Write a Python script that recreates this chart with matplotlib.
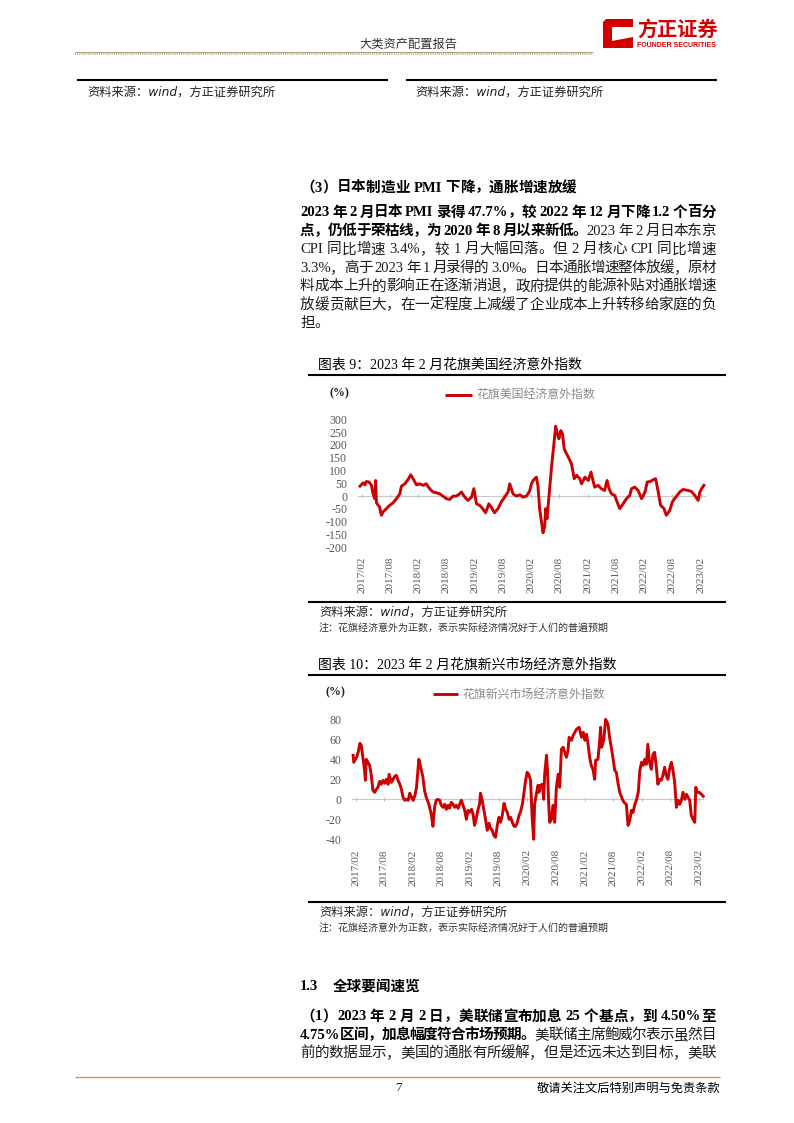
import matplotlib
matplotlib.use('Agg')
import matplotlib.pyplot as plt
from matplotlib.lines import Line2D
from matplotlib.patches import Polygon
import pandas as pd

# ---------------- data ----------------
xtick_labels = ['2017/02', '2017/08', '2018/02', '2018/08', '2019/02', '2019/08', '2020/02',
                '2020/08', '2021/02', '2021/08', '2022/02', '2022/08', '2023/02']
us_yticks = [300, 250, 200, 150, 100, 50, 0, -50, -100, -150, -200]
em_yticks = [80, 60, 40, 20, 0, -20, -40]

us_dates = [
    '2017-01-21', '2017-02-11', '2017-02-22', '2017-03-03', '2017-03-20', '2017-04-05', '2017-04-15', '2017-04-26', '2017-05-02', '2017-05-07',
    '2017-05-28', '2017-06-08', '2017-06-19', '2017-07-10', '2017-08-01', '2017-08-23', '2017-09-14', '2017-10-05', '2017-10-16', '2017-11-07',
    '2017-11-28', '2017-12-15', '2017-12-30', '2018-01-21', '2018-02-12', '2018-03-04', '2018-03-25', '2018-04-16', '2018-05-08', '2018-05-29',
    '2018-06-20', '2018-07-11', '2018-08-02', '2018-08-24', '2018-09-15', '2018-10-06', '2018-10-27', '2018-11-08', '2018-11-29', '2018-12-20',
    '2019-01-12', '2019-01-27', '2019-02-03', '2019-02-13', '2019-03-05', '2019-03-22', '2019-04-13', '2019-05-04', '2019-05-19', '2019-06-10',
    '2019-07-02', '2019-07-23', '2019-08-14', '2019-09-05', '2019-09-16', '2019-10-07', '2019-10-29', '2019-11-20', '2019-12-11', '2020-01-02',
    '2020-01-23', '2020-02-03', '2020-02-14', '2020-03-06', '2020-03-16', '2020-03-27', '2020-04-08', '2020-04-18', '2020-04-29', '2020-05-05',
    '2020-05-14', '2020-05-27', '2020-06-11', '2020-06-26', '2020-07-09', '2020-07-20', '2020-07-30', '2020-08-11', '2020-08-22', '2020-09-02',
    '2020-09-17', '2020-10-04', '2020-10-19', '2020-11-06', '2020-11-21', '2020-12-12', '2020-12-23', '2021-01-14', '2021-02-05', '2021-02-22',
    '2021-03-07', '2021-03-18', '2021-04-09', '2021-04-30', '2021-05-21', '2021-06-06', '2021-06-19', '2021-07-04', '2021-07-25', '2021-08-10',
    '2021-08-27', '2021-09-18', '2021-10-09', '2021-10-31', '2021-11-11', '2021-12-02', '2021-12-24', '2022-01-15', '2022-02-06', '2022-02-21',
    '2022-03-12', '2022-04-03', '2022-04-16', '2022-05-01', '2022-05-18', '2022-06-09', '2022-06-24', '2022-07-16', '2022-08-02', '2022-08-24',
    '2022-09-19', '2022-10-10', '2022-11-12', '2022-12-04', '2022-12-25', '2023-01-16', '2023-01-27', '2023-02-07', '2023-02-22']
us_values = [
    39, 52, 44, 57, 55, 42, 9, -10, 61, -26,
    -43, -75, -62, -49, -36, -26, -10, 9, 39, 48,
    65, 83, 68, 44, 48, 42, 48, 29, 16, 13,
    9, 0, -10, -13, 0, 0, 9, 16, -4, -17,
    -4, 29, 5, -30, -36, -47, -65, -30, -43, -65,
    -49, -23, -4, 16, 48, 9, 0, 5, -4, 0,
    20, 48, 61, 74, 42, -49, -101, -143, -118, -49,
    -88, 3, 107, 198, 273, 243, 224, 256, 243, 185,
    165, 146, 126, 68, 81, 68, 48, 74, 61, 94,
    61, 35, 42, 29, 22, 61, 29, 9, 3, -23,
    -49, -30, -10, 3, 29, 35, 22, -10, 16, 55,
    57, 65, 68, 22, -36, -49, -75, -56, -23, -4,
    16, 26, 22, 18, 3, -17, 16, 29, 42]

em_dates = [
    '2017-01-16', '2017-01-20', '2017-02-07', '2017-02-17', '2017-02-28', '2017-03-09', '2017-03-19', '2017-03-30', '2017-04-04', '2017-04-10',
    '2017-04-20', '2017-05-01', '2017-05-11', '2017-05-22', '2017-06-02', '2017-06-13', '2017-06-23', '2017-07-04', '2017-07-14', '2017-07-25',
    '2017-08-05', '2017-08-16', '2017-08-27', '2017-09-02', '2017-09-17', '2017-09-28', '2017-10-08', '2017-10-19', '2017-10-29', '2017-11-10',
    '2017-11-20', '2017-11-30', '2017-12-11', '2017-12-21', '2018-01-02', '2018-01-12', '2018-01-23', '2018-02-03', '2018-02-14', '2018-02-24',
    '2018-03-05', '2018-03-11', '2018-03-19', '2018-04-06', '2018-04-16', '2018-04-27', '2018-05-14', '2018-05-29', '2018-06-09', '2018-06-19',
    '2018-06-30', '2018-07-10', '2018-07-21', '2018-08-01', '2018-08-12', '2018-08-22', '2018-09-02', '2018-09-13', '2018-09-23', '2018-10-04',
    '2018-10-15', '2018-10-25', '2018-11-05', '2018-11-16', '2018-11-26', '2018-12-07', '2018-12-18', '2018-12-28', '2019-01-08', '2019-01-19',
    '2019-01-30', '2019-02-10', '2019-02-20', '2019-03-01', '2019-03-11', '2019-03-22', '2019-04-02', '2019-04-08', '2019-04-19', '2019-04-30',
    '2019-05-10', '2019-05-21', '2019-06-01', '2019-06-11', '2019-06-22', '2019-07-02', '2019-07-13', '2019-07-24', '2019-08-04', '2019-08-14',
    '2019-08-25', '2019-09-05', '2019-09-16', '2019-09-26', '2019-10-07', '2019-10-17', '2019-10-28', '2019-11-08', '2019-11-18', '2019-11-29',
    '2019-12-10', '2019-12-20', '2019-12-31', '2020-01-09', '2020-01-19', '2020-01-30', '2020-02-10', '2020-02-21', '2020-02-27', '2020-03-03',
    '2020-03-12', '2020-03-18', '2020-03-29', '2020-04-09', '2020-04-15', '2020-04-24', '2020-05-06', '2020-05-15', '2020-05-21', '2020-06-02',
    '2020-06-08', '2020-06-16', '2020-06-22', '2020-07-03', '2020-07-13', '2020-07-24', '2020-08-04', '2020-08-15', '2020-08-25', '2020-09-05',
    '2020-09-16', '2020-09-26', '2020-10-07', '2020-10-17', '2020-10-24', '2020-11-08', '2020-11-19', '2020-12-10', '2020-12-27', '2021-01-11',
    '2021-01-22', '2021-02-02', '2021-02-12', '2021-02-22', '2021-03-04', '2021-03-14', '2021-03-25', '2021-04-05', '2021-04-11', '2021-04-26',
    '2021-05-07', '2021-05-13', '2021-05-19', '2021-06-02', '2021-06-14', '2021-06-29', '2021-07-09', '2021-07-20', '2021-07-30', '2021-08-11',
    '2021-08-21', '2021-09-02', '2021-09-12', '2021-09-29', '2021-10-09', '2021-10-24', '2021-11-04', '2021-11-15', '2021-11-26', '2021-12-06',
    '2021-12-17', '2021-12-27', '2022-01-08', '2022-01-18', '2022-01-29', '2022-02-09', '2022-02-19', '2022-03-01', '2022-03-10', '2022-03-21',
    '2022-04-01', '2022-04-12', '2022-04-22', '2022-05-02', '2022-05-13', '2022-05-24', '2022-06-04', '2022-06-14', '2022-06-25', '2022-07-05',
    '2022-07-16', '2022-07-26', '2022-08-07', '2022-08-17', '2022-08-28', '2022-09-08', '2022-09-19', '2022-09-29', '2022-10-10', '2022-10-20',
    '2022-11-01', '2022-11-11', '2022-11-21', '2022-12-02', '2022-12-12', '2022-12-23', '2023-01-03', '2023-01-10', '2023-01-18', '2023-01-31',
    '2023-02-15', '2023-02-26']
em_values = [
    44, 37, 42, 47, 56, 54, 42, 29, 19, 40,
    37, 34, 25, 9, 7, 10, 12, 18, 15, 19,
    16, 20, 15, 25, 17, 20, 23, 24, 19, 15,
    10, 2, -1, 0, -1, 6, 2, -1, 4, 12,
    29, 40, 35, 22, 9, 2, -5, -15, -27, -8,
    -1, 0, -1, -6, -8, -5, -10, -6, -9, -3,
    -5, -8, -6, -9, -5, -1, -6, -11, -20, -11,
    -13, -10, -15, -26, -20, -11, -5, 6, -1, -11,
    -20, -31, -24, -29, -31, -36, -38, -26, -18, -23,
    -16, -4, -10, -13, -20, -18, -23, -27, -27, -23,
    -16, -12, -5, 5, 17, 27, 25, 19, -1, -20,
    -40, -5, 5, 14, 7, 14, 15, 0, 25, 44,
    29, -5, -23, -20, -6, -23, 12, 25, 12, 50,
    52, 47, 42, 49, 62, 59, 64, 70, 72, 62,
    67, 59, 65, 55, 42, 34, 30, 20, 39, 40,
    59, 72, 52, 59, 80, 75, 62, 52, 42, 29,
    27, 15, 7, 0, -3, -5, -26, -21, -11, -13,
    -5, -1, 7, 29, 37, 34, 40, 35, 55, 37,
    30, 45, 47, 34, 15, 20, 19, 24, 32, 24,
    20, 30, 37, 29, 17, -8, -1, -5, -1, 7,
    0, 5, 2, -1, -16, -20, -23, 12, 7, 7,
    5, 3]

assert len(us_dates) == len(us_values)
assert len(em_dates) == len(em_values)

# ---------------- page set-up ----------------
W, H = 794, 1123
fig = plt.figure(figsize=(W / 100, H / 100), dpi=100)
fig.patch.set_facecolor('white')
renderer = fig.canvas.get_renderer()

SER = ['Liberation Serif', 'Noto Sans CJK SC']
SANS = ['Noto Sans CJK SC', 'DejaVu Sans']
KAI = ['DejaVu Sans', 'Noto Sans CJK SC']
RED = '#d40000'
LINE_RED = '#cc0000'


def X(x):
    return x / W


def Y(y):
    return 1 - y / H


def txt(x, y, s, size, family=SER, **kw):
    kw.setdefault('va', 'center')
    return fig.text(X(x), Y(y), s, fontsize=size, family=family, **kw)


def hline(x0, x1, y, lw, color, **kw):
    fig.add_artist(Line2D([X(x0), X(x1)], [Y(y), Y(y)], transform=fig.transFigure,
                          lw=lw, color=color, solid_capstyle='butt', **kw))


# -------- justified text helper --------
def split_tokens(segs):
    toks = []
    for s, b in segs:
        i = 0
        while i < len(s):
            c = s[i]
            if c == ' ':
                toks.append((' ', b))
                i += 1
            elif ord(c) < 128:
                j = i
                while j < len(s) and ord(s[j]) < 128 and s[j] != ' ':
                    j += 1
                toks.append((s[i:j], b))
                i = j
            else:
                toks.append((c, b))
                i += 1
    return toks


_wc = {}


def _ext(s, b, size):
    t = fig.text(0, 0, s, fontsize=size, family=SER, fontweight='bold' if b else 'normal')
    w = t.get_window_extent(renderer).width
    t.remove()
    return w


def adv(s, b, size):
    key = (s, b, size)
    if key not in _wc:
        _wc[key] = _ext('|' + s + '|', b, size) - _ext('||', b, size)
    return _wc[key]


def para_line(segs, y, x0=300, x1=716, size=10.5, justify=True):
    toks = split_tokens(segs)
    widths = [adv(s, b, size) for s, b in toks]
    extra = 0
    if justify and len(toks) > 1:
        extra = (x1 - x0 - sum(widths)) / (len(toks) - 1)
    x = x0
    for (s, b), w in zip(toks, widths):
        if s != ' ':
            fig.text(X(x), Y(y), s, fontsize=size, family=SER,
                     fontweight='bold' if b else 'normal',
                     color='black' if b else '#1c1c1c', va='center', ha='left')
        x += w + extra


# ---------------- header ----------------
txt(408, 44, '大类资产配置报告', 8.8, family=SANS, ha='center', color='#333333')
hline(75, 593, 51.5, 0.6, '#9c8c6c')
hline(75, 593, 54.0, 1.3, '#b8aa8c', linestyle=(0, (0.6, 0.6)))
# logo
logo = [(606, 19), (633, 19), (633, 27), (612, 27), (612, 41), (633, 37), (633, 48), (603, 48), (603, 22)]
fig.add_artist(Polygon([(X(a), Y(b)) for a, b in logo], closed=True, transform=fig.transFigure,
                       facecolor=RED, edgecolor='none'))
txt(637, 29, '方正证券', 14.5, family=SANS, fontweight='bold', color=RED)
txt(637, 45.5, 'FOUNDER SECURITIES', 5.0, family=['Liberation Sans'], fontweight='bold', color=RED)

hline(77, 388, 79.5, 1.5, 'black')
hline(406, 717, 79.5, 1.5, 'black')
txt(87, 92, '资料来源：wind，方正证券研究所', 8.8, family=KAI, style='italic', color='#222222')
txt(415, 92, '资料来源：wind，方正证券研究所', 8.8, family=KAI, style='italic', color='#222222')

# ---------------- section (3) ----------------
para_line([('（3）日本制造业 PMI 下降，通胀增速放缓', True)], 188, x0=300, size=10.5, justify=False)
para_lines = [
    ([('2023 年 2 月日本 PMI 录得 47.7%，较 2022 年 12 月下降 1.2 个百分', True)], True),
    ([('点，仍低于荣枯线，为 2020 年 8 月以来新低。', True), ('2023 年 2 月日本东京', False)], True),
    ([('CPI 同比增速 3.4%，较 1 月大幅回落。但 2 月核心 CPI 同比增速', False)], True),
    ([('3.3%，高于 2023 年 1 月录得的 3.0%。日本通胀增速整体放缓，原材', False)], True),
    ([('料成本上升的影响正在逐渐消退，政府提供的能源补贴对通胀增速', False)], True),
    ([('放缓贡献巨大，在一定程度上减缓了企业成本上升转移给家庭的负', False)], True),
    ([('担。', False)], False),
]
for k, (segs, just) in enumerate(para_lines):
    para_line(segs, 213 + k * 18.4, justify=just)


# ---------------- charts ----------------
def chart(left, right, top, bottom, dates, values, yticks, ypad, xpad):
    ax = fig.add_axes([X(left), Y(bottom), X(right) - X(left), Y(top) - Y(bottom)])
    ax.patch.set_alpha(0)
    xt = pd.to_datetime([lab.replace('/', '-') + '-01' for lab in xtick_labels])
    ax.axhline(0, color='#c8c8c8', lw=0.8, zorder=1)
    ax.plot(xt, [0] * len(xt), ls='none', marker='|', ms=3, mew=0.7, color='#bdbdbd', zorder=1)
    ax.plot(pd.to_datetime(dates), values, color=LINE_RED, lw=2.1, solid_joinstyle='round',
            zorder=3, clip_on=False)
    ax.set_xlim(pd.Timestamp('2017-01-10'), pd.Timestamp('2023-03-05'))
    ax.set_ylim(yticks[-1], yticks[0])
    ax.set_yticks(yticks)
    ax.set_yticklabels([str(v) for v in yticks])
    ax.set_xticks(xt)
    ax.set_xticklabels(xtick_labels, rotation=90, va='top', ha='center')
    for s in ax.spines.values():
        s.set_visible(False)
    ax.tick_params(axis='y', length=0, pad=ypad, labelsize=8.6, labelcolor='#595959')
    ax.tick_params(axis='x', length=0, pad=xpad, labelsize=8.0, labelcolor='#595959')
    for lab in ax.get_xticklabels() + ax.get_yticklabels():
        lab.set_family('Liberation Serif')
    return ax


def chart_frame(title, ty, ly_top, ly_bot, pct_x, pct_y, leg_x0, leg_x1, leg_y, leg_text, src_y, note_y):
    txt(318, ty, title, 10, family=SER, color='black')
    hline(308, 726, ly_top, 1.5, 'black')
    hline(308, 726, ly_bot, 1.5, 'black')
    txt(pct_x, pct_y, '(%)', 8.6, family=SER, ha='center', fontweight='bold', color='#222222')
    fig.add_artist(Line2D([X(leg_x0), X(leg_x1)], [Y(leg_y), Y(leg_y)], transform=fig.transFigure,
                          lw=2.1, color=LINE_RED, solid_capstyle='butt'))
    txt(leg_x1 + 4, leg_y, leg_text, 8.6, family=SANS, color='#8a8a8a')
    txt(319, src_y, '资料来源：wind，方正证券研究所', 8.8, family=KAI, style='italic', color='#222222')
    txt(319, note_y, '注：花旗经济意外为正数，表示实际经济情况好于人们的普遍预期', 7.2, family=SANS,
        style='italic', color='#333333')


chart_frame('图表 9：2023 年 2 月花旗美国经济意外指数', 365, 374.5, 601.5, 339, 393,
            445, 472, 394.5, '花旗美国经济意外指数', 612.5, 627.5)
chart(358.3, 705.6, 419.3, 547.3, us_dates, us_values, us_yticks, ypad=8.0, xpad=7.0)

chart_frame('图表 10：2023 年 2 月花旗新兴市场经济意外指数', 665, 674.5, 901.5, 335, 692,
            433, 458, 694, '花旗新兴市场经济意外指数', 912.5, 927.5)
chart(352.2, 704.3, 719.3, 839.3, em_dates, em_values, em_yticks, ypad=7.5, xpad=7.2)

# ---------------- section 1.3 ----------------
txt(300, 986, '1.3', 10.5, family=SER, fontweight='bold', color='black')
txt(333, 986, '全球要闻速览', 10.5, family=SANS, fontweight='bold', color='black')
sec_lines = [
    [('（1）2023 年 2 月 2 日，美联储宣布加息 25 个基点，到 4.50%至', True)],
    [('4.75%区间，加息幅度符合市场预期。', True), ('美联储主席鲍威尔表示虽然目', False)],
    [('前的数据显示，美国的通胀有所缓解，但是还远未达到目标，美联', False)],
]
for k, segs in enumerate(sec_lines):
    para_line(segs, 1017 + k * 18.2)

# ---------------- footer ----------------
hline(75, 720, 1077, 1.0, '#f08a3c')
txt(398, 1088, '7', 9.5, family=SER, ha='center', color='#222222')
txt(720, 1088, '敬请关注文后特别声明与免责条款', 8.8, family=SANS, ha='right', color='black')

fig.savefig('out.png', dpi=100, facecolor='white')
